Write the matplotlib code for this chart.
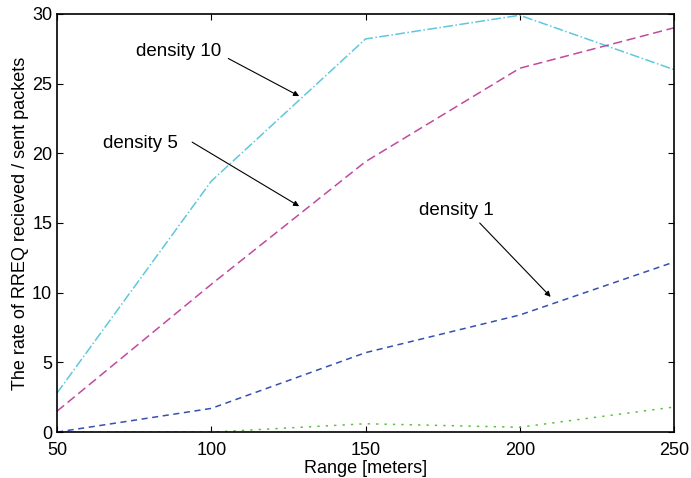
import matplotlib
matplotlib.use("Agg")
import matplotlib.pyplot as plt

plt.rcParams['font.family'] = ['Liberation Sans', 'DejaVu Sans']

# datos
rango = [50, 100, 150, 200, 250]
dens10 = [2.8, 18.0, 28.2, 29.9, 26.0]
dens5 = [1.5, 10.6, 19.4, 26.1, 29.0]
dens1 = [0.0, 1.7, 5.7, 8.4, 12.2]
dens_otra = [0.0, 0.0, 0.6, 0.35, 1.8]

fig = plt.figure(figsize=(6.91, 4.78), dpi=100)
ax = fig.add_axes([0.0825, 0.096, 0.893, 0.875])

ax.plot(rango, dens10, color='#5ec8dc', linestyle='-.', linewidth=1.1)
ax.plot(rango, dens5, color='#c04aa0', linestyle=(0, (6, 3)), linewidth=1.1)
ax.plot(rango, dens1, color='#3450b0', linestyle=(0, (4, 3)), linewidth=1.1)
ax.plot(rango, dens_otra, color='#5cc040', linestyle=(0, (1.5, 4)), linewidth=1.1)

# etiquetas con flechas
flecha = dict(arrowstyle='-|>', color='black', lw=0.8, mutation_scale=8,
              shrinkA=0, shrinkB=0)
ax.text(89.5, 27.3, 'density 10', ha='center', va='center', fontsize=13.5)
ax.annotate('', xy=(128.5, 24.1), xytext=(105.5, 26.8), arrowprops=flecha)
ax.text(77.0, 20.7, 'density 5', ha='center', va='center', fontsize=13.5)
ax.annotate('', xy=(128.5, 16.2), xytext=(93.8, 20.8), arrowprops=flecha)
ax.text(179.5, 15.9, 'density 1', ha='center', va='center', fontsize=13.5)
ax.annotate('', xy=(210.0, 9.7), xytext=(187.0, 15.0), arrowprops=flecha)

ax.set_xlim(50, 250)
ax.set_ylim(0, 30)
ax.set_xticks([50, 100, 150, 200, 250])
ax.set_yticks([0, 5, 10, 15, 20, 25, 30])
ax.tick_params(direction='in', top=True, right=True, labelsize=13, length=4)
ax.tick_params(axis='x', pad=7)
for s in ax.spines.values():
    s.set_linewidth(1.2)
ax.set_xlabel('Range [meters]', fontsize=13, labelpad=1)
ax.set_ylabel('The rate of RREQ recieved / sent packets', fontsize=13, labelpad=2)

fig.savefig('out.png', dpi=100)
